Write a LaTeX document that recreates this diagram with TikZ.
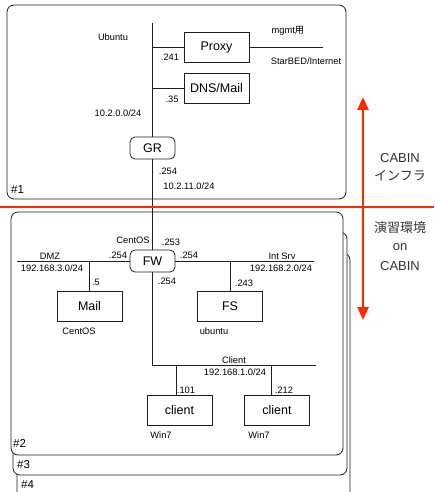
\documentclass[tikz,border=0pt]{standalone}
\usepackage{fontspec}
\setmainfont{Liberation Sans}
\newfontfamily\jpfont{Noto Sans CJK JP}
\usetikzlibrary{arrows.meta}
\definecolor{redc}{RGB}{255,38,0}
\definecolor{framec}{RGB}{30,30,30}
\begin{document}
\begin{tikzpicture}[x=1pt,y=-1pt,
  box/.style={draw=framec, line width=0.8pt, minimum width=65pt, minimum height=30pt, inner sep=0pt, font=\fontsize{12.5}{14}\selectfont},
  rbox/.style={draw=framec, fill=white, rounded corners=5pt, line width=0.8pt, minimum width=45pt, minimum height=22pt, inner sep=0pt, font=\fontsize{12.5}{14}\selectfont},
  lbl/.style={inner sep=0pt, font=\fontsize{9.3}{11}\selectfont},
  tag/.style={inner sep=0pt, font=\fontsize{11.5}{13}\selectfont, anchor=west},
  side/.style={inner sep=0pt, font=\fontsize{13}{15}\selectfont, text=black!80},
  frame/.style={draw=framec, fill=white, rounded corners=7pt, line width=0.8pt},
  net/.style={draw=framec, line width=0.8pt},
  redline/.style={draw=redc, line width=2.6pt}]
\clip (0,0) rectangle (434,492);
\fill[white] (0,0) rectangle (434,492);
% frames
\draw[frame] (17,253) rectangle (350,520);
\draw[frame] (13,232) rectangle (347,475);
\draw[frame] (11,212) rectangle (343,455);
\draw[frame] (7,5) rectangle (346,199);
\node[tag] (t1) at (11,190) {\#1};
\node[tag] (t2) at (13,443) {\#2};
\node[tag] (t3) at (17,465) {\#3};
\node[tag] (t4) at (21,485) {\#4};
% nodes
\node[box] (proxy) at (216.5,47) {Proxy};
\node[box] (dns) at (216.5,88) {DNS/Mail};
\node[rbox] (gr) at (152.5,148) {GR};
\node[rbox] (fw) at (152.5,261) {FW};
\node[box] (mail) at (89.5,306) {Mail};
\node[box] (fs) at (230,306) {FS};
\node[box] (c1) at (179.5,410) {client};
\node[box] (c2) at (277,410) {client};
% coordinates
\coordinate (top) at (152.5,23);
\coordinate (ptap) at (152.5,47);
\coordinate (dtap) at (152.5,88);
\coordinate (inet) at (323,47);
\coordinate (dmzl) at (17,261);
\coordinate (intr) at (314,261);
\coordinate (mtap) at (89.5,261);
\coordinate (ftap) at (230,261);
\coordinate (cl) at (152.5,365);
\coordinate (cr) at (316,365);
\coordinate (c1tap) at (176,365);
\coordinate (c2tap) at (271,365);
% connectors
\draw[net] (top) -- (gr.north);
\draw[net] (ptap) -- (proxy.west);
\draw[net] (dtap) -- (dns.west);
\draw[net] (proxy.east) -- (inet);
\draw[net] (gr.south) -- (fw.north);
\draw[net] (dmzl) -- (fw.west);
\draw[net] (fw.east) -- (intr);
\draw[net] (mtap) -- (mail.north);
\draw[net] (ftap) -- (fs.north);
\draw[net] (fw.south) -- (cl) -- (cr);
\draw[net] (c1tap) -- (c1tap |- c1.north);
\draw[net] (c2tap) -- (c2tap |- c2.north);
% labels
\node[lbl] (l1) at (113,37) {Ubuntu};
\node[lbl] (l2) at (170,57) {.241};
\node[lbl] (l3) at (288,31) {mgmt\jpfont 用};
\node[lbl] (l4) at (306,61) {StarBED/Internet};
\node[lbl] (l5) at (172,99) {.35};
\node[lbl] (l6) at (118,113) {10.2.0.0/24};
\node[lbl] (l7) at (168,171) {.254};
\node[lbl] (l8) at (189,186) {10.2.11.0/24};
\node[lbl] (l9) at (133,240) {CentOS};
\node[lbl] (l10) at (171,242) {.253};
\node[lbl] (l11) at (118,255) {.254};
\node[lbl] (l12) at (189,255) {.254};
\node[lbl] (l13) at (50,256) {DMZ};
\node[lbl] (l14) at (52,268) {192.168.3.0/24};
\node[lbl] (l15) at (282,256) {Int Srv};
\node[lbl] (l16) at (281,268) {192.168.2.0/24};
\node[lbl] (l17) at (167,281) {.254};
\node[lbl] (l18) at (96,282) {.5};
\node[lbl] (l19) at (244,283) {.243};
\node[lbl] (l20) at (79,331) {CentOS};
\node[lbl] (l21) at (214,331) {ubuntu};
\node[lbl] (l22) at (234,360) {Client};
\node[lbl] (l23) at (235,372) {192.168.1.0/24};
\node[lbl] (l24) at (186,390) {.101};
\node[lbl] (l25) at (284,390) {.212};
\node[lbl] (l26) at (161,435) {Win7};
\node[lbl] (l27) at (259,435) {Win7};
% red divider and arrow
\coordinate (hl) at (0,207);
\coordinate (hr) at (434,207);
\coordinate (atop) at (363,97);
\coordinate (abot) at (363,320);
\draw[redline] (hl) -- (hr);
\draw[redline, {Triangle[length=13pt,width=11pt]}-{Triangle[length=13pt,width=11pt]}] (atop) -- (abot);
\node[side] (s1) at (400,158) {CABIN};
\node[side] (s2) at (400,176) {\jpfont インフラ};
\node[side] (s3) at (400,228) {\jpfont 演習環境};
\node[side] (s4) at (400,247) {on};
\node[side] (s5) at (400,266) {CABIN};
\end{tikzpicture}
\end{document}
